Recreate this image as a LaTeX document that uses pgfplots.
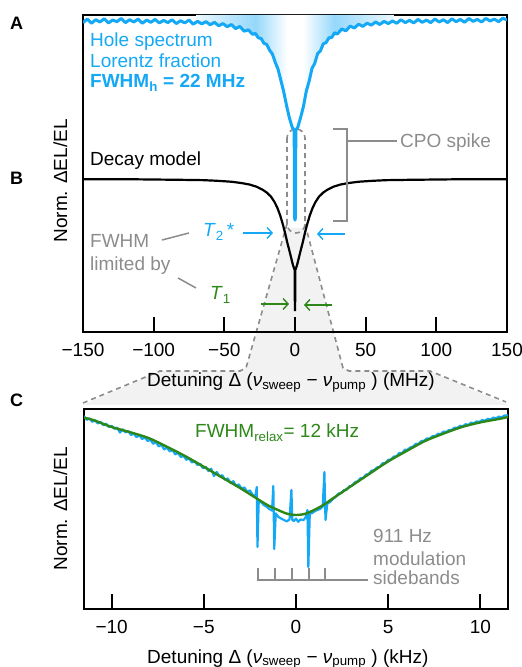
\documentclass[border=0pt]{standalone}
\usepackage{pgfplots}
\pgfplotsset{compat=1.18}
\usepackage{fontspec}
\setmainfont{Liberation Sans}
\usetikzlibrary{arrows.meta}

\definecolor{cblue}{RGB}{20,168,245}
\definecolor{cgreen}{RGB}{45,135,25}
\definecolor{cgray}{RGB}{140,140,140}
\definecolor{cfill}{RGB}{242,242,242}
\colorlet{cshade}{cblue!45!white}
\pgfdeclarehorizontalshading{holeshade}{100bp}{color(0bp)=(white); color(25bp)=(cblue!8!white); color(40bp)=(cshade); color(48bp)=(white); color(52bp)=(white); color(60bp)=(cshade); color(75bp)=(cblue!8!white); color(100bp)=(white)}

\newcommand\fs{\fontsize{19}{22}\selectfont}

\pgfplotsset{
  panel/.style={
    scale only axis, anchor=south west,
    ymin=0, ymax=1, ytick=\empty,
    axis line style={line width=2pt},
    tick align=inside, xtick pos=bottom,
    major tick length=15pt,
    every tick/.style={black, line width=2pt},
    tick label style={font=\fs},
    xticklabel style={yshift=-8pt},
  },
}

\begin{document}
\begin{tikzpicture}
\path[use as bounding box] (0,0) rectangle (522pt,667pt);

% zoom cone behind the plots (pixel coordinates, y downwards)
\begin{scope}[x=1pt, y=-1pt, shift={(0pt,667pt)}]
  \fill[cfill] (287,228) -- (246,368) -- (240,371) -- (160,371) -- (83,405)
    -- (508,405) -- (430,371) -- (349,371) -- (343,368) -- (305,228) -- cycle;
  \begin{scope}[cgray, line width=1.6pt, dash pattern=on 5pt off 4pt]
    \draw[rounded corners=9pt] (287,129) rectangle (305,233);
    \draw (287,224) -- (246,368) -- (240,371) -- (160,371) -- (83,403);
    \draw (305,224) -- (343,368) -- (349,371) -- (430,371) -- (506,402);
  \end{scope}
\end{scope}

% A/B: hole spectrum and decay model
\begin{axis}[panel, at={(83pt,335pt)}, width=424pt, height=317pt,
  xmin=-150, xmax=150,
  xtick={-150,-100,-50,0,50,100,150},
  xticklabels={−150,−100,−50,0,50,100,150}]
\addplot[draw=none, shade, shading=holeshade] coordinates {
  (-70,0.976) (-60,0.970) (-50,0.968) (-40,0.960) (-30,0.940) (-22,0.912) (-16,0.876)
  (-12,0.828) (-8,0.757) (-4,0.675) (0,0.636) (4,0.678) (8,0.759) (12,0.830)
  (16,0.877) (22,0.914) (30,0.941) (40,0.962) (50,0.970) (60,0.971) (70,0.977)
  (70,1) (-70,1)
};
\addplot[cblue, line width=3pt, line join=round] coordinates {
  (-150,0.976) (-147,0.987) (-144,0.974) (-141,0.985) (-138,0.978) (-135,0.988)
  (-132,0.975) (-129,0.984) (-126,0.979) (-123,0.989) (-120,0.976) (-117,0.985)
  (-114,0.978) (-111,0.987) (-108,0.974) (-105,0.984) (-102,0.977) (-99,0.986)
  (-96,0.975) (-93,0.983) (-90,0.976) (-87,0.985) (-84,0.973) (-81,0.982)
  (-78,0.975) (-75,0.984) (-72,0.971) (-69,0.980) (-66,0.972) (-63,0.979)
  (-60,0.969) (-57,0.977) (-54,0.966) (-51,0.973) (-48,0.963) (-45,0.970)
  (-42,0.957) (-39,0.964) (-36,0.949) (-33,0.953) (-30,0.939) (-28,0.942)
  (-26,0.928) (-24,0.926) (-22,0.911) (-20,0.907) (-18,0.889) (-16,0.877)
  (-14,0.851) (-12,0.829) (-10,0.794) (-8,0.758) (-6,0.715) (-4,0.676)
  (-2,0.646) (-0.6,0.637) (-0.25,0.360) (0,0.353) (0.25,0.360) (0.6,0.637)
  (2,0.646) (4,0.677) (6,0.712) (8,0.760) (10,0.791) (12,0.831)
  (14,0.848) (16,0.878) (18,0.887) (20,0.909) (22,0.913) (24,0.928)
  (26,0.929) (28,0.944) (30,0.940) (33,0.956) (36,0.950) (39,0.965)
  (42,0.959) (45,0.971) (48,0.964) (51,0.974) (54,0.968) (57,0.978)
  (60,0.970) (63,0.980) (66,0.973) (69,0.981) (72,0.974) (75,0.985)
  (78,0.976) (81,0.983) (84,0.975) (87,0.986) (90,0.977) (93,0.984)
  (96,0.976) (99,0.987) (102,0.978) (105,0.985) (108,0.976) (111,0.988)
  (114,0.979) (117,0.986) (120,0.977) (123,0.989) (126,0.980) (129,0.986)
  (132,0.978) (135,0.989) (138,0.981) (141,0.987) (144,0.979) (147,0.990)
  (150,0.984)
};
\addplot[black, line width=2.2pt] coordinates {
  (-150,0.482) (-120,0.482) (-100,0.481) (-80,0.480) (-65,0.479) (-55,0.477)
  (-45,0.474) (-38,0.470) (-32,0.465) (-27,0.458) (-23,0.449) (-20,0.440)
  (-17,0.427) (-14.5,0.410) (-12.5,0.392) (-10.5,0.368) (-8.5,0.338)
  (-7,0.312) (-5.5,0.283) (-4,0.257) (-2.5,0.230) (-1.5,0.212) (-0.7,0.201)
  (-0.2,0.196) (-0.08,0.069) (0.08,0.069) (0.2,0.196) (0.7,0.201)
  (1.5,0.212) (2.5,0.230) (4,0.257) (5.5,0.283) (7,0.312) (8.5,0.338)
  (10.5,0.368) (12.5,0.392) (14.5,0.410) (17,0.427) (20,0.440) (23,0.449)
  (27,0.458) (32,0.465) (38,0.470) (45,0.474) (55,0.477) (65,0.479)
  (80,0.480) (100,0.481) (120,0.482) (150,0.482)
};
\end{axis}

% C: zoom on the CPO spike
\begin{axis}[panel, at={(84pt,58pt)}, width=424pt, height=200pt,
  xmin=-11.5, xmax=11.5,
  xtick={-10,-5,0,5,10},
  xticklabels={−10,−5,0,5,10}]
\addplot[cblue, line width=2.2pt, line join=round] coordinates {
  (-11.50,0.965) (-11.35,0.946) (-11.20,0.953) (-11.05,0.936) (-10.90,0.944)
  (-10.75,0.928) (-10.60,0.935) (-10.45,0.919) (-10.30,0.926) (-10.15,0.910)
  (-10.00,0.916) (-9.85,0.901) (-9.70,0.907) (-9.55,0.882) (-9.40,0.898)
  (-9.25,0.883) (-9.10,0.890) (-8.95,0.870) (-8.80,0.877) (-8.65,0.859)
  (-8.50,0.869) (-8.35,0.850) (-8.20,0.858) (-8.05,0.840) (-7.90,0.847)
  (-7.75,0.826) (-7.60,0.835) (-7.45,0.813) (-7.30,0.821) (-7.15,0.798)
  (-7.00,0.807) (-6.85,0.788) (-6.70,0.795) (-6.55,0.773) (-6.40,0.781)
  (-6.25,0.760) (-6.10,0.766) (-5.95,0.746) (-5.80,0.753) (-5.65,0.733)
  (-5.50,0.739) (-5.35,0.720) (-5.20,0.726) (-5.05,0.704) (-4.90,0.711)
  (-4.75,0.690) (-4.60,0.701) (-4.45,0.665) (-4.30,0.685) (-4.15,0.663)
  (-4.00,0.669) (-3.85,0.646) (-3.70,0.653) (-3.55,0.630) (-3.40,0.639)
  (-3.25,0.615) (-3.10,0.623) (-2.95,0.601) (-2.80,0.608) (-2.65,0.586)
  (-2.50,0.593) (-2.35,0.570) (-2.20,0.565) (-2.13,0.610) (-2.09,0.310)
  (-2.02,0.545) (-1.90,0.535) (-1.75,0.520) (-1.60,0.512) (-1.45,0.500)
  (-1.30,0.492) (-1.23,0.615) (-1.18,0.300) (-1.10,0.478) (-0.95,0.460)
  (-0.80,0.452) (-0.65,0.445) (-0.50,0.438) (-0.35,0.448) (-0.25,0.595)
  (-0.20,0.445) (-0.12,0.440) (0.00,0.452) (0.12,0.436) (0.25,0.448)
  (0.40,0.444) (0.52,0.458) (0.62,0.495) (0.67,0.210) (0.75,0.485)
  (0.85,0.478) (1.00,0.488) (1.15,0.495) (1.30,0.500) (1.45,0.512)
  (1.54,0.685) (1.60,0.445) (1.70,0.528) (1.85,0.535) (2.00,0.550)
  (2.15,0.560) (2.30,0.577) (2.45,0.579) (2.60,0.594) (2.75,0.597)
  (2.90,0.614) (3.05,0.617) (3.20,0.634) (3.35,0.639) (3.50,0.654)
  (3.65,0.655) (3.80,0.672) (3.95,0.675) (4.10,0.692) (4.25,0.694)
  (4.40,0.708) (4.55,0.711) (4.70,0.729) (4.85,0.729) (5.00,0.746)
  (5.15,0.747) (5.30,0.762) (5.45,0.763) (5.60,0.780) (5.75,0.779)
  (5.90,0.796) (6.05,0.796) (6.20,0.808) (6.35,0.812) (6.50,0.826)
  (6.65,0.825) (6.80,0.840) (6.95,0.841) (7.10,0.853) (7.25,0.851)
  (7.40,0.864) (7.55,0.863) (7.70,0.876) (7.85,0.875) (8.00,0.887)
  (8.15,0.885) (8.30,0.895) (8.45,0.895) (8.60,0.907) (8.75,0.905)
  (8.90,0.916) (9.05,0.913) (9.20,0.924) (9.35,0.920) (9.50,0.932)
  (9.65,0.928) (9.80,0.938) (9.95,0.935) (10.10,0.945) (10.25,0.941)
  (10.40,0.951) (10.55,0.947) (10.70,0.957) (10.85,0.953) (11.00,0.962)
  (11.15,0.958) (11.30,0.967) (11.50,0.968)
};
\addplot[cgreen, line width=2.4pt, smooth] coordinates {
  (-11.5,0.956) (-11,0.945) (-10,0.910) (-9,0.884) (-8,0.855) (-7,0.811)
  (-6,0.764) (-5,0.711) (-4,0.657) (-3,0.603) (-2,0.545) (-1.5,0.517)
  (-1,0.496) (-0.5,0.477) (0,0.470) (0.5,0.476) (1,0.496) (1.5,0.521)
  (2,0.553) (3,0.615) (4,0.677) (5,0.738) (6,0.790) (7,0.840) (8,0.877)
  (9,0.910) (10,0.933) (11,0.950) (11.5,0.960)
};
% modulation sideband comb
\draw[cgray, line width=2pt]
  (axis cs:-2.05,0.205) -- (axis cs:-2.05,0.145) -- (axis cs:3.9,0.145)
  (axis cs:-1.14,0.205) -- (axis cs:-1.14,0.145)
  (axis cs:-0.23,0.205) -- (axis cs:-0.23,0.145)
  (axis cs:0.68,0.205) -- (axis cs:0.68,0.145)
  (axis cs:1.59,0.205) -- (axis cs:1.59,0.145);
\end{axis}

% annotations (pixel coordinates, y downwards)
\begin{scope}[x=1pt, y=-1pt, shift={(0pt,667pt)}, font=\fs]
  \node[font=\fontsize{18}{18}\selectfont\bfseries, anchor=base west, inner sep=0pt] at (10,30) {A};
  \node[font=\fontsize{18}{18}\selectfont\bfseries, anchor=base west, inner sep=0pt] at (10,185) {B};
  \node[font=\fontsize{18}{18}\selectfont\bfseries, anchor=base west, inner sep=0pt] at (10,407) {C};

  \node[rotate=90, anchor=base, inner sep=0pt] at (67,181) {Norm. ΔEL/EL};
  \node[rotate=90, anchor=base, inner sep=0pt] at (67,509) {Norm. ΔEL/EL};

  \node[cblue, anchor=base west, inner sep=0pt] at (90,47) {Hole spectrum};
  \node[cblue, anchor=base west, inner sep=0pt] at (90,68) {Lorentz fraction};
  \node[cblue, anchor=base west, inner sep=0pt] at (90,88) {\bfseries FWHM\textsubscript{h} = 22 MHz};
  \node[anchor=base west, inner sep=0pt] at (90,166) {Decay model};

  % CPO spike bracket
  \draw[cgray, line width=1.5pt] (333,129) -- (347,129) -- (347,221) -- (333,221);
  \draw[cgray, line width=1.5pt] (347,141) -- (397,141);
  \node[cgray, anchor=base west, inner sep=0pt] at (400,148) {CPO spike};

  % linewidth arrows
  \draw[cblue, line width=1.4pt, -{Straight Barb[length=5pt, width=11pt]}] (243,233) -- (273,233);
  \draw[cblue, line width=1.4pt, -{Straight Barb[length=5pt, width=11pt]}] (345,234) -- (317,234);
  \node[cblue, anchor=base west, inner sep=0pt] at (203,237) {\textit{T}\textsubscript{2}\,*};
  \draw[cgreen, line width=1.4pt, -{Straight Barb[length=5pt, width=11pt]}] (261,304) -- (289,304);
  \draw[cgreen, line width=1.4pt, -{Straight Barb[length=5pt, width=11pt]}] (332,305) -- (304,305);
  \node[cgreen, anchor=base west, inner sep=0pt] at (210,300) {\textit{T}\textsubscript{1}};

  \node[cgray, anchor=base west, inner sep=0pt] at (90,248) {FWHM};
  \node[cgray, anchor=base west, inner sep=0pt] at (90,271) {limited by};
  \draw[cgray, line width=1.5pt] (162,240) -- (189,233);
  \draw[cgray, line width=1.5pt] (178,278) -- (196,288);

  \node[anchor=base west, inner sep=0pt] at (147,387)
    {Detuning Δ (\textit{ν}\textsubscript{sweep} − \textit{ν}\textsubscript{pump} ) (MHz)};
  \node[anchor=base west, inner sep=0pt] at (147,663)
    {Detuning Δ (\textit{ν}\textsubscript{sweep} − \textit{ν}\textsubscript{pump} ) (kHz)};

  \node[cgreen, anchor=base west, inner sep=0pt] at (195,438) {FWHM\textsubscript{relax}= 12 kHz};
  \node[cgray, anchor=base west, inner sep=0pt] at (373,543) {911 Hz};
  \node[cgray, anchor=base west, inner sep=0pt] at (373,566) {modulation};
  \node[cgray, anchor=base west, inner sep=0pt] at (373,585) {sidebands};
\end{scope}
\end{tikzpicture}
\end{document}
